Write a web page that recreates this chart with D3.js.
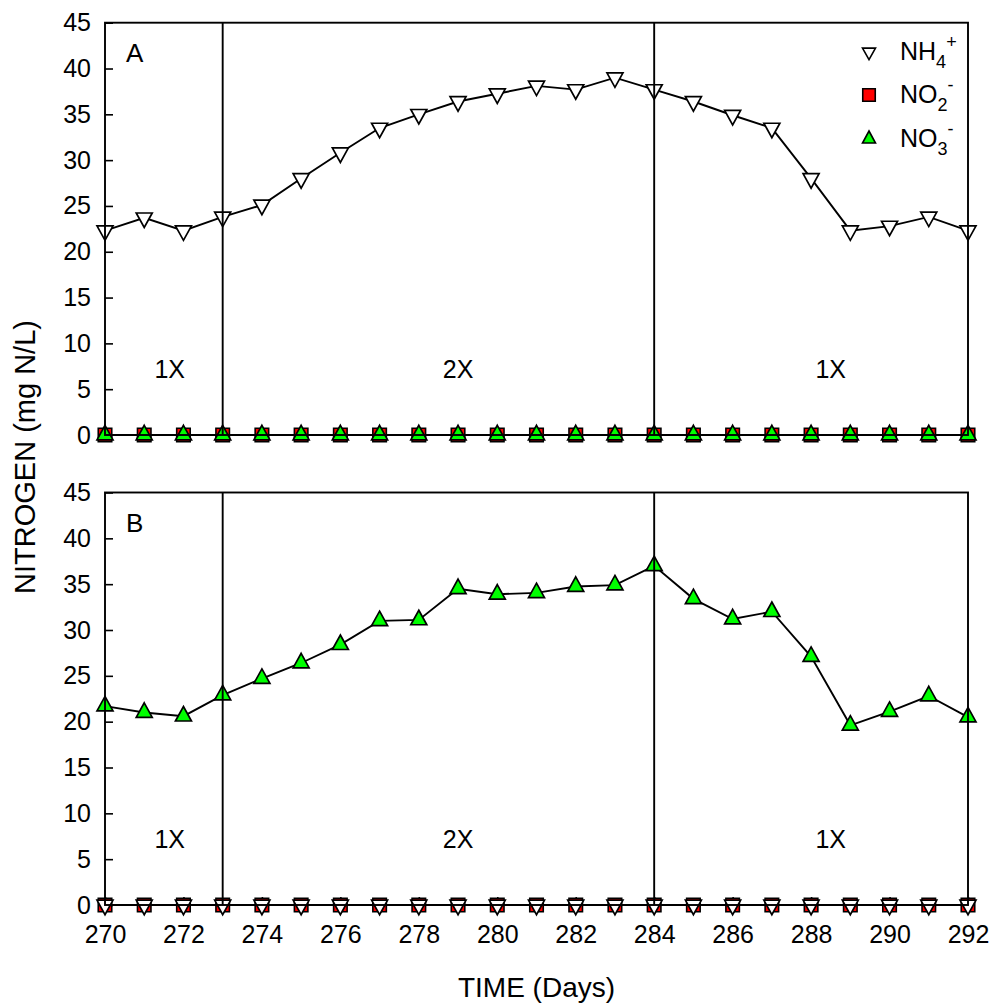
<!DOCTYPE html>
<html>
<head>
<meta charset="utf-8">
<script src="https://cdn.jsdelivr.net/npm/d3@7"></script>
<style>
  html, body { margin: 0; padding: 0; background: #fff; }
  svg { display: block; font-family: Arial, "Liberation Sans", Helvetica, sans-serif; }
</style>
</head>
<body>
<svg id="chart" width="992" height="1007"></svg>
<script>
// Sampling days
const days = [270, 271, 272, 273, 274, 275, 276, 277, 278, 279, 280, 281,
              282, 283, 284, 285, 286, 287, 288, 289, 290, 291, 292];

// Panel A (mg N/L)
const nh4A = [22.3, 23.7, 22.3, 23.8, 25.1, 28.0, 30.8, 33.5, 35.0, 36.4, 37.25, 38.1,
              37.7, 39.0, 37.7, 36.4, 34.9, 33.5, 28.0, 22.3, 22.8, 23.8, 22.3];
const no2A = [0, 0, 0, 0, 0, 0, 0, 0, 0, 0, 0, 0, 0, 0, 0, 0, 0, 0, 0, 0, 0, 0, 0];
const no3A = [0, 0, 0, 0, 0, 0, 0, 0, 0, 0, 0, 0, 0, 0, 0, 0, 0, 0, 0, 0, 0, 0, 0];

// Panel B (mg N/L)
const nh4B = [0, 0, 0, 0, 0, 0, 0, 0, 0, 0, 0, 0, 0, 0, 0, 0, 0, 0, 0, 0, 0, 0, 0];
const no2B = [0, 0, 0, 0, 0, 0, 0, 0, 0, 0, 0, 0, 0, 0, 0, 0, 0, 0, 0, 0, 0, 0, 0];
const no3B = [21.7, 21.0, 20.6, 22.9, 24.7, 26.4, 28.4, 31.0, 31.1, 34.5, 33.9, 34.05,
              34.75, 34.9, 37.0, 33.4, 31.2, 32.0, 27.1, 19.6, 21.1, 22.8, 20.5];

// Axis ticks and annotations
const yTicks = [0, 5, 10, 15, 20, 25, 30, 35, 40, 45];
const xTicks = [270, 272, 274, 276, 278, 280, 282, 284, 286, 288, 290, 292];
const phaseBreaks = [273, 284];
const phaseLabels = [
  { day: 271.65, text: "1X" },
  { day: 279.0, text: "2X" },
  { day: 288.5, text: "1X" }
];

const svg = d3.select("#chart");
const x = d3.scaleLinear().domain([270, 292]).range([105, 968]);

const panels = [
  { letter: "A", y: d3.scaleLinear().domain([0, 45]).range([435, 22.7]),
    nh4: nh4A, no2: no2A, no3: no3A, xLabels: false },
  { letter: "B", y: d3.scaleLinear().domain([0, 45]).range([905, 492.5]),
    nh4: nh4B, no2: no2B, no3: no3B, xLabels: true }
];

// Marker shapes (centred on the centroid)
const TW = 16, TH = 14.5, SQ = 13.5;
function downTri(w, h) {
  return `M${-w / 2},${-h / 3}L${w / 2},${-h / 3}L0,${2 * h / 3}Z`;
}
function upTri(w, h) {
  return `M0,${-2 * h / 3}L${w / 2},${h / 3}L${-w / 2},${h / 3}Z`;
}
function square(s) {
  return `M${-s / 2},${-s / 2}h${s}v${s}h${-s}Z`;
}

const fontTick = 25;
const FONT = "Arial, 'Liberation Sans', sans-serif";

panels.forEach(p => {
  const g = svg.append("g");
  const y = p.y;
  const [y0, y1] = y.range();

  // Left axis with inward ticks
  const ya = g.append("g").attr("transform", `translate(${x(270)},0)`)
    .call(d3.axisLeft(y).tickValues(yTicks).tickSize(-8).tickPadding(14).tickFormat(d3.format("d")));
  ya.select(".domain").remove();
  ya.selectAll(".tick line").attr("stroke", "#000").attr("stroke-width", 1.6);
  ya.selectAll(".tick text").attr("font-size", fontTick).attr("fill", "#000")
    .attr("font-family", FONT);

  // Bottom axis with inward ticks
  const xa = g.append("g").attr("transform", `translate(0,${y0})`)
    .call(d3.axisBottom(x).tickValues(xTicks).tickSize(-8).tickPadding(20)
      .tickFormat(p.xLabels ? d3.format("d") : () => ""));
  xa.select(".domain").remove();
  xa.selectAll(".tick line").attr("stroke", "#000").attr("stroke-width", 1.6);
  xa.selectAll(".tick text").attr("font-size", fontTick).attr("fill", "#000")
    .attr("font-family", FONT);

  // Data lines
  const line = vals => d3.line().x((d, i) => x(days[i])).y(d => y(d))(vals);
  [p.no2, p.nh4, p.no3].forEach(vals => {
    g.append("path").attr("d", line(vals)).attr("fill", "none")
      .attr("stroke", "#000").attr("stroke-width", 1.9);
  });

  // Markers: nitrite first, then ammonium and nitrate on top
  g.append("g").selectAll("path").data(p.no2).join("path")
    .attr("d", square(SQ))
    .attr("transform", (d, i) => `translate(${x(days[i])},${y(d)})`)
    .attr("fill", "#ff0000").attr("stroke", "#000").attr("stroke-width", 1.6);
  g.append("g").selectAll("path").data(p.nh4).join("path")
    .attr("d", downTri(TW, TH))
    .attr("transform", (d, i) => `translate(${x(days[i])},${y(d)})`)
    .attr("fill", "#fff").attr("stroke", "#000").attr("stroke-width", 1.7);
  g.append("g").selectAll("path").data(p.no3).join("path")
    .attr("d", upTri(TW, TH))
    .attr("transform", (d, i) => `translate(${x(days[i])},${y(d)})`)
    .attr("fill", "#00ff00").attr("stroke", "#000").attr("stroke-width", 1.7);

  // Frame and loading-phase boundaries
  g.append("rect").attr("x", x(270)).attr("y", y1)
    .attr("width", x(292) - x(270)).attr("height", y0 - y1)
    .attr("fill", "none").attr("stroke", "#000").attr("stroke-width", 1.9);
  g.selectAll(".brk").data(phaseBreaks).join("line")
    .attr("x1", d => x(d)).attr("x2", d => x(d)).attr("y1", y1).attr("y2", y0)
    .attr("stroke", "#000").attr("stroke-width", 1.9);

  // Panel letter
  g.append("text").attr("x", x(270) + 21).attr("y", y(45) + 39)
    .attr("font-size", 26).text(p.letter);

  // Phase labels
  g.selectAll(".phase").data(phaseLabels).join("text")
    .attr("x", d => x(d.day)).attr("y", y(6.2))
    .attr("text-anchor", "middle").attr("font-size", fontTick).text(d => d.text);
});

// Legend (panel A, top right)
const legend = svg.append("g");
const legX = 869, legTextX = 900;
const legItems = [
  { y: 52, shape: downTri(13, 11.5), fill: "#fff", base: "NH", sub: "4", sup: "+" },
  { y: 95, shape: square(12.5), fill: "#ff0000", base: "NO", sub: "2", sup: "-" },
  { y: 139, shape: upTri(13, 12), fill: "#00ff00", base: "NO", sub: "3", sup: "-" }
];
legItems.forEach(it => {
  legend.append("path").attr("d", it.shape)
    .attr("transform", `translate(${legX},${it.y})`)
    .attr("fill", it.fill).attr("stroke", "#000").attr("stroke-width", 1.6);
  const t = legend.append("text").attr("x", legTextX).attr("y", it.y + 7.5)
    .attr("font-size", fontTick);
  t.append("tspan").text(it.base);
  t.append("tspan").attr("font-size", 18).attr("dy", 8).text(it.sub);
  t.append("tspan").attr("font-size", 18).attr("dy", -20).attr("dx", 0).text(it.sup);
});

// Axis titles
svg.append("text").attr("x", (x(270) + x(292)) / 2).attr("y", 997)
  .attr("text-anchor", "middle").attr("font-size", 28).text("TIME (Days)");
svg.append("text")
  .attr("transform", `translate(35,457) rotate(-90)`)
  .attr("text-anchor", "middle").attr("font-size", 29).text("NITROGEN (mg N/L)");
</script>
</body>
</html>
